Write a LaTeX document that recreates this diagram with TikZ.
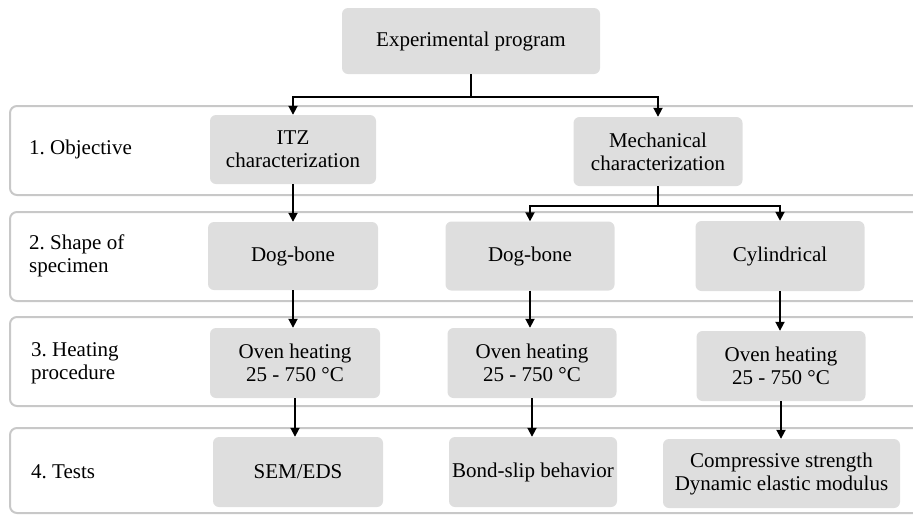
\documentclass[tikz,border=0pt]{standalone}
\usepackage{fontspec}
\setmainfont{Liberation Serif}
\usetikzlibrary{arrows.meta}
\definecolor{boxgray}{HTML}{DEDEDE}
\definecolor{framegray}{HTML}{C8C8C8}
\frenchspacing
\begin{document}
\begin{tikzpicture}[x=1pt,y=-1pt,
  stepbox/.style={fill=boxgray, rounded corners=6pt, align=center, inner sep=0pt,
    font=\fontsize{21}{23}\selectfont},
  rowframe/.style={draw=framegray, line width=2pt, rounded corners=7pt},
  rowlabel/.style={anchor=west, align=left, inner sep=0pt, font=\fontsize{21}{23}\selectfont},
  conn/.style={line width=1.8pt, black},
  arr/.style={conn, -{Triangle[length=9pt,width=9pt]}}
]
\useasboundingbox (0,0) rectangle (913,515);
\clip (0,0) rectangle (913,515);
% row frames
\draw[rowframe] (10,106) rectangle (940,195);
\draw[rowframe] (10,212) rectangle (940,301);
\draw[rowframe] (10,317) rectangle (940,406);
\draw[rowframe] (10,428) rectangle (940,513);
% row labels
\node[rowlabel] (l1) at (29,149) {\frenchspacing 1. Objective};
\node[rowlabel] (l2) at (29,256) {\frenchspacing 2. Shape of\\specimen};
\node[rowlabel] (l3) at (31,363) {\frenchspacing 3. Heating\\procedure};
\node[rowlabel] (l4) at (31,472) {\frenchspacing 4. Tests};
% boxes
\node[stepbox, minimum width=258pt, minimum height=66pt] (top) at (471,41) {Experimental program};
\node[stepbox, minimum width=166pt, minimum height=69pt] (itz) at (293,149.5) {ITZ\\characterization};
\node[stepbox, minimum width=169pt, minimum height=69pt] (mech) at (658,151.5) {Mechanical\\characterization};
\node[stepbox, minimum width=170pt, minimum height=68pt] (dog1) at (293,256) {Dog-bone};
\node[stepbox, minimum width=169pt, minimum height=69pt] (dog2) at (530,256) {Dog-bone};
\node[stepbox, minimum width=169pt, minimum height=70pt] (cyl) at (780,256) {Cylindrical};
\node[stepbox, minimum width=170pt, minimum height=70pt] (ov1) at (295,363) {Oven heating\\ 25 - 750 °C};
\node[stepbox, minimum width=169pt, minimum height=70pt] (ov2) at (532,363) {Oven heating\\ 25 - 750 °C};
\node[stepbox, minimum width=169pt, minimum height=70pt] (ov3) at (781,366) {Oven heating\\ 25 - 750 °C};
\node[stepbox, minimum width=170pt, minimum height=70pt] (sem) at (298,472) {SEM/EDS};
\node[stepbox, minimum width=168pt, minimum height=70pt] (bond) at (533,472) {Bond-slip behavior};
\node[stepbox, minimum width=237pt, minimum height=69pt] (comp) at (781.5,473.5) {Compressive strength\\Dynamic elastic modulus};
% connectors
\draw[conn] (top.south) -- ++(0,23) coordinate (j1);
\draw[arr] (j1) -| (itz.north);
\draw[arr] (j1) -| (mech.north);
\draw[arr] (itz.south) -- (itz.south |- dog1.north);
\draw[conn] (mech.south) -- ++(0,20) coordinate (j2);
\draw[arr] (j2) -| (dog2.north);
\draw[arr] (j2) -| (cyl.north);
\draw[arr] (dog1.south) -- (dog1.south |- ov1.north);
\draw[arr] (dog2.south) -- (dog2.south |- ov2.north);
\draw[arr] (cyl.south) -- (cyl.south |- ov3.north);
\draw[arr] (ov1.south) -- (ov1.south |- sem.north);
\draw[arr] (ov2.south) -- (ov2.south |- bond.north);
\draw[arr] (ov3.south) -- (ov3.south |- comp.north);
\end{tikzpicture}
\end{document}
